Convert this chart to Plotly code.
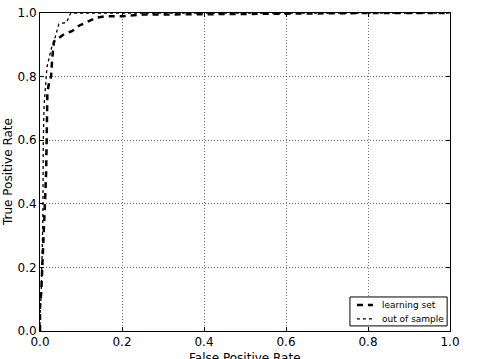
import plotly.graph_objects as go

# Learning set ROC
fpr_learn = [0, 0, 0.003, 0.006, 0.009, 0.012, 0.015, 0.016, 0.017, 0.018, 0.022, 0.027, 0.030, 0.034,
             0.040, 0.050, 0.060, 0.078, 0.095, 0.112, 0.137, 0.160, 0.200, 0.250, 0.300, 0.500, 0.800, 1.0]
tpr_learn = [0, 0.08, 0.12, 0.20, 0.30, 0.40, 0.50, 0.60, 0.70, 0.75, 0.78, 0.80, 0.86, 0.91,
             0.92, 0.925, 0.935, 0.943, 0.960, 0.970, 0.985, 0.990, 0.990, 0.995, 0.995, 0.997, 1.0, 1.0]

# Out of sample ROC
fpr_oos = [0, 0, 0.003, 0.005, 0.007, 0.008, 0.010, 0.017, 0.022, 0.028, 0.034, 0.040, 0.046,
           0.055, 0.064, 0.070, 0.075, 1.0]
tpr_oos = [0, 0.05, 0.12, 0.20, 0.35, 0.60, 0.71, 0.83, 0.86, 0.89, 0.91, 0.94, 0.965,
           0.968, 0.970, 0.985, 1.0, 1.0]

series_names = ["learning set", "out of sample"]

tick_vals = [0.0, 0.2, 0.4, 0.6, 0.8, 1.0]
tick_text = ["0.0", "0.2", "0.4", "0.6", "0.8", "1.0"]

font = "DejaVu Sans"
learn_line = dict(color="black", width=2.5, dash="6px,5px")
oos_line = dict(color="black", width=1.3, dash="dot")

fig = go.Figure()
fig.add_trace(go.Scatter(x=fpr_learn, y=tpr_learn, mode="lines", name=series_names[0],
                         line=learn_line, showlegend=False))
fig.add_trace(go.Scatter(x=fpr_oos, y=tpr_oos, mode="lines", name=series_names[1],
                         line=oos_line, showlegend=False))

axis_common = dict(
    range=[0, 1], tickvals=tick_vals, ticktext=tick_text, automargin=False,
    showline=True, linecolor="black", linewidth=1, mirror="allticks",
    ticks="inside", ticklen=4, tickcolor="black",
    showgrid=True, gridcolor="rgba(0,0,0,0.55)", griddash="1px,2px", gridwidth=1,
    zeroline=False, tickfont=dict(family=font, size=12, color="black"),
)

fig.update_xaxes(**axis_common)
fig.update_yaxes(**axis_common)

# Compact legend (matplotlib-style) drawn in paper coordinates
lg_x0, lg_x1, lg_y0, lg_y1 = 0.756, 0.993, 0.016, 0.107
row_y = [0.082, 0.038]
sample_x0, sample_x1, text_x = 0.773, 0.812, 0.830
shapes = [dict(type="rect", xref="paper", yref="paper", x0=lg_x0, x1=lg_x1, y0=lg_y0, y1=lg_y1,
               fillcolor="white", line=dict(color="black", width=1), layer="above")]
annotations = []
for name, ln, ry in zip(series_names, [learn_line, oos_line], row_y):
    shapes.append(dict(type="line", xref="paper", yref="paper", x0=sample_x0, x1=sample_x1,
                       y0=ry, y1=ry, line=ln, layer="above"))
    annotations.append(dict(text=name, x=text_x, y=ry, xref="paper", yref="paper",
                            xanchor="left", yanchor="middle", showarrow=False,
                            font=dict(family=font, size=9, color="black")))

annotations += [
    dict(text="False Positive Rate", x=0.5, y=0, xref="paper", yref="paper",
         xanchor="center", yanchor="top", yshift=-18, showarrow=False,
         font=dict(family=font, size=12, color="black")),
    dict(text="True Positive Rate", x=0, y=0.5, xref="paper", yref="paper",
         xanchor="center", yanchor="middle", xshift=-32, textangle=-90, showarrow=False,
         font=dict(family=font, size=12, color="black")),
]

fig.update_layout(
    width=479, height=359,
    margin=dict(l=40, r=29, t=13, b=28),
    paper_bgcolor="white", plot_bgcolor="white",
    font=dict(family=font, size=12, color="black"),
    showlegend=False,
    shapes=shapes,
    annotations=annotations,
)

fig.write_html("out.html", config={"displayModeBar": False},
               post_script="document.body.style.margin='0';")
